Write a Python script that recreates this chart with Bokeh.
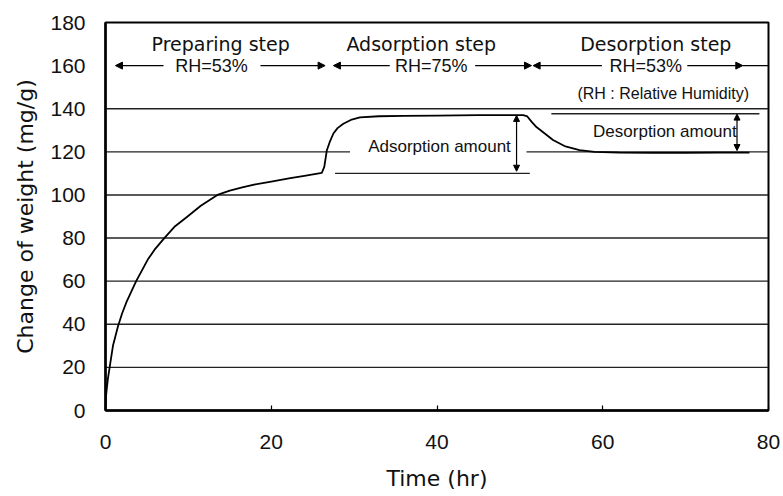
from bokeh.plotting import figure
from bokeh.models import Range1d, Arrow, NormalHead, FixedTicker
from bokeh.core.properties import value
from bokeh.embed import file_html
from bokeh.resources import INLINE

# ---- data ----
time_hr = [0, 0.05, 0.15, 0.3, 0.5, 0.9, 1.5, 2.0, 2.5, 3.1, 3.7, 4.4, 5.1, 6.0,
           7.1, 8.4, 9.9, 11.5, 13.5, 15.0, 16.5, 17.8, 20.0,
           22.3, 24.0, 26.1, 26.4, 26.7, 27.1, 27.5, 28.0, 28.7, 29.6, 30.7, 33.0,
           36.0, 40.0, 45.0, 50.4, 50.9, 51.4, 52.0, 53.0, 54.0, 55.5, 57.2, 59.0,
           62.0, 66.0, 70.0, 74.0, 77.7]
weight_mg_g = [0, 6, 10, 15, 20, 30, 39, 45, 50, 55, 60, 65, 70, 75,
               80, 85.5, 90, 95, 100, 102, 103.5, 104.7, 106.2,
               107.8, 108.8, 110.2, 113, 120.6, 125, 128.5, 131, 133, 134.8, 136, 136.5,
               136.7, 136.8, 137, 137, 136.4, 134, 131.5, 128.5, 125.5, 122.5, 120.8, 120,
               119.6, 119.5, 119.5, 119.6, 119.6]

x_ticks = [0, 20, 40, 60, 80]
y_ticks = [0, 20, 40, 60, 80, 100, 120, 140, 160, 180]

# horizontal grid / reference lines: level, start, end
grid_level = [20, 40, 60, 80, 100, 140, 120, 120, 110, 137.7]
grid_x0 = [0, 0, 0, 0, 0, 0, 0, 50.8, 27.7, 53.8]
grid_x1 = [80, 80, 80, 80, 80, 80, 29.5, 80, 51.2, 78.9]

step_names = ["Preparing step", "Adsorption step", "Desorption step"]
step_name_x = [13.9, 38.1, 66.4]
step_rh = ["RH=53%", "RH=75%", "RH=53%"]
step_rh_x = [12.8, 39.3, 65.2]
# stage arrows on the RH line: left and right parts
stage_left_x0 = [7.0, 34.3, 59.9]
stage_left_x1 = [1.2, 27.5, 51.6]
stage_right_x0 = [18.7, 44.6, 70.2]
stage_right_x1 = [26.5, 51.4, 76.9]
stage_y = 160
step_title_y = 170

note_text = ["(RH : Relative Humidity)", "Adsorption amount", "Desorption amount"]
note_x = [67.3, 40.3, 67.5]
note_y = [147, 122.7, 129.5]
note_size = ["16px", "17px", "17px"]

amount_x = [49.6, 76.2]
amount_top = [136.9, 137.5]
amount_bottom = [111.0, 120.6]

# ---- figure ----
p = figure(width=783, height=496, output_backend="svg", toolbar_location=None,
           x_range=Range1d(0, 80), y_range=Range1d(0, 180),
           min_border_left=105, min_border_right=15, min_border_top=22,
           min_border_bottom=86)
p.background_fill_color = "white"
p.border_fill_color = "white"
p.outline_line_color = "black"
p.outline_line_width = 2
p.xgrid.visible = False
p.ygrid.visible = False

for ax in (p.xaxis[0], p.yaxis[0]):
    ax.axis_line_color = "black"
    ax.axis_line_width = 2.5
    ax.major_label_text_font = "Liberation Sans"
    ax.major_label_text_font_size = "21px"
    ax.major_label_text_color = "#111111"
    ax.axis_label_text_font = "DejaVu Sans"
    ax.axis_label_text_font_size = "22px"
    ax.axis_label_text_font_style = "normal"
    ax.axis_label_text_color = "#111111"
    ax.minor_tick_line_color = None

p.xaxis.ticker = FixedTicker(ticks=x_ticks)
p.yaxis.ticker = FixedTicker(ticks=y_ticks)
p.xaxis.major_tick_in = 5
p.xaxis.major_tick_out = 0
p.xaxis.major_tick_line_color = "black"
p.xaxis.major_tick_line_width = 1.2
p.xaxis.major_label_standoff = 24
p.xaxis.axis_label = "Time (hr)"
p.xaxis.axis_label_standoff = 14
p.yaxis.major_tick_in = 0
p.yaxis.major_tick_out = 0
p.yaxis.major_label_standoff = 20
p.yaxis.axis_label = "Change of weight (mg/g)"
p.yaxis.axis_label_standoff = 9

# grid and reference lines
p.segment(x0=grid_x0, x1=grid_x1, y0=grid_level, y1=grid_level,
          line_color="#222222", line_width=1.4)

# measured curve
p.line(time_hr, weight_mg_g, line_color="black", line_width=1.8,
       line_join="round")

# step titles and RH texts
p.text(x=step_name_x, y=[step_title_y] * 3, text=step_names,
       text_font=value("DejaVu Sans"), text_font_size="19px",
       text_align="center", text_baseline="middle", text_color="#111111")
p.text(x=step_rh_x, y=[stage_y] * 3, text=step_rh,
       text_font=value("Liberation Sans"), text_font_size="18px",
       text_align="center", text_baseline="middle", text_color="#111111")

# stage arrows
for xa, xb in zip(stage_left_x0 + stage_right_x0, stage_left_x1 + stage_right_x1):
    p.add_layout(Arrow(end=NormalHead(size=7, fill_color="black", line_color="black"),
                       x_start=xa, y_start=stage_y, x_end=xb, y_end=stage_y,
                       line_width=1.2, line_color="black"))
p.segment(x0=[stage_right_x1[2]], x1=[80], y0=[stage_y], y1=[stage_y],
          line_color="black", line_width=1.2)

# notes
for t, xx, yy, fs in zip(note_text, note_x, note_y, note_size):
    p.text(x=[xx], y=[yy], text=[t], text_font=value("Liberation Sans"),
           text_font_size=fs, text_align="center", text_baseline="middle",
           text_color="#111111")

# double-headed amount arrows
for xx, yt, yb in zip(amount_x, amount_top, amount_bottom):
    p.add_layout(Arrow(start=NormalHead(size=6, fill_color="black", line_color="black"),
                       end=NormalHead(size=6, fill_color="black", line_color="black"),
                       x_start=xx, y_start=yt, x_end=xx, y_end=yb,
                       line_width=1.2, line_color="black"))

open("out.html", "w").write(file_html(p, INLINE))
